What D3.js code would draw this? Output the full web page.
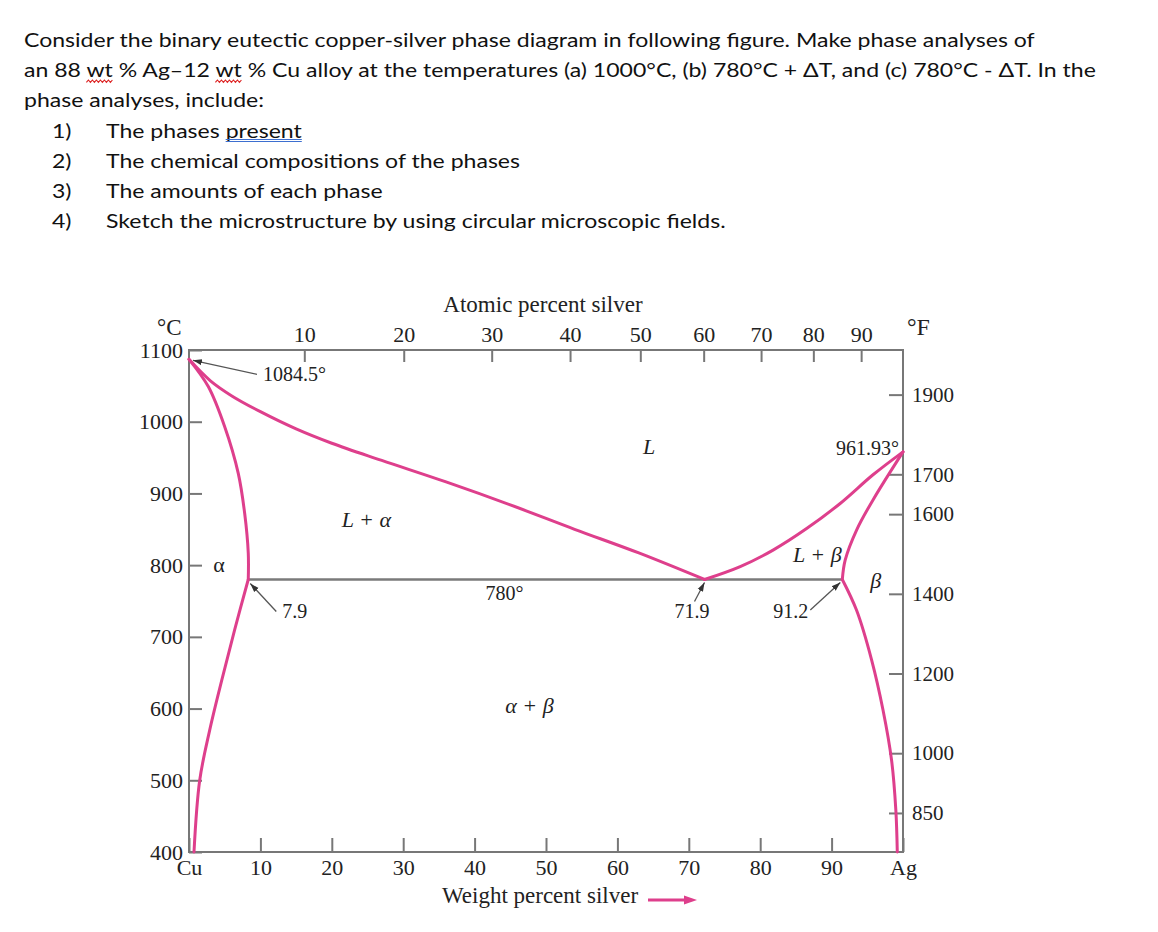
<!DOCTYPE html>
<html>
<head>
<meta charset="utf-8">
<script src="https://cdn.jsdelivr.net/npm/d3@7"></script>
<style>
  body { margin: 0; background: #fff; }
  svg text { font-family: "Liberation Serif", "Times New Roman", serif; fill: #222; }
  .q text { font-family: Lato, "Open Sans", sans-serif; fill: #111; font-size: 20px; }
  .axis text { font-size: 22px; }
  .axis line { stroke: #777; stroke-width: 2; }
  .axis path { display: none; }
  .axis.f text { font-size: 21px; }
  .note { font-size: 20px; }
  .phase { font-size: 22px; font-style: italic; }
</style>
</head>
<body>
<svg id="chart" width="1158" height="932"></svg>
<script>
// question text
var questionLines = [
  "Consider the binary eutectic copper-silver phase diagram in following figure. Make phase analyses of",
  "an 88 wt % Ag\u201312 wt % Cu alloy at the temperatures (a) 1000\u00b0C, (b) 780\u00b0C + \u0394T, and (c) 780\u00b0C - \u0394T. In the",
  "phase analyses, include:"
];
var listNumbers = ["1)", "2)", "3)", "4)"];
var listItems = [
  "The phases present",
  "The chemical compositions of the phases",
  "The amounts of each phase",
  "Sketch the microstructure by using circular microscopic fields."
];

// axes
var wtTicks = [0, 10, 20, 30, 40, 50, 60, 70, 80, 90, 100];
var atTicks = [10, 20, 30, 40, 50, 60, 70, 80, 90];
var celsiusTicks = [400, 500, 600, 700, 800, 900, 1000, 1100];
var fahrenheitTicks = [850, 1000, 1200, 1400, 1600, 1700, 1900];

// phase boundaries: [weight % Ag, temperature °C]
var liquidusCu = [[0, 1087], [3, 1057], [6, 1036], [10, 1014], [15, 990], [20, 970], [27, 946],
                  [36, 916], [45, 884], [54, 850], [63, 817], [72.2, 780]];
var solidusAlpha = [[0, 1087], [2.7, 1049], [5.0, 993], [6.9, 928], [7.8, 872], [8.3, 817], [8.3, 780]];
var solvusAlpha = [[8.3, 780], [6.4, 710], [4.6, 640], [2.9, 570], [1.5, 500], [0.7, 400]];
var liquidusAg = [[72.2, 780], [77.2, 798], [81.8, 821], [86.5, 851], [91.2, 886], [95.8, 926], [100, 958]];
var solidusBeta = [[100, 958], [95.8, 891], [93.5, 849], [91.9, 807], [91.5, 780]];
var solvusBeta = [[91.5, 780], [93.5, 737], [95.6, 668], [97.2, 598], [98.4, 528], [99.0, 458], [99.2, 400]];
var eutectic = [[8.3, 780], [91.5, 780]];

var notes = ["1084.5\u00b0", "7.9", "71.9", "91.2", "961.93\u00b0", "780\u00b0"];
var phaseLabels = ["L", "L + \u03b1", "\u03b1", "\u03b1 + \u03b2", "L + \u03b2", "\u03b2"];

var pink = "#de3f8c";
var svg = d3.select("#chart");

// ---------- question text ----------
var q = svg.append("g").attr("class", "q");
var probe = q.append("text").text(questionLines[0]);
var sx = 1011 / probe.node().getComputedTextLength();
probe.remove();

function line(str, x, y) {
  return q.append("text")
    .attr("transform", "translate(" + x + "," + y + ") scale(" + sx + ",1)")
    .text(str);
}

var qNodes = questionLines.map(function(s, i) { return line(s, 24, 47 + i * 30.2); });
listItems.forEach(function(s, i) {
  line(listNumbers[i], 52, 137.5 + i * 30.3);
  var t = line(s, 106, 137.5 + i * 30.3);
  if (i === 0) {
    var node = t.node();
    var k = s.indexOf("present");
    var x0 = 106 + node.getSubStringLength(0, k) * sx;
    var w = node.getSubStringLength(k, 7) * sx;
    [2, 4].forEach(function(dy) {
      q.append("line")
        .attr("x1", x0).attr("x2", x0 + w)
        .attr("y1", 137.5 + dy).attr("y2", 137.5 + dy)
        .attr("stroke", "#3d6fd0").attr("stroke-width", 1.1);
    });
  }
});

// red squiggles under "wt"
(function() {
  var s = questionLines[1];
  var node = qNodes[1].node();
  var from = 0;
  var k;
  while ((k = s.indexOf("wt", from)) >= 0) {
    var x0 = 24 + node.getSubStringLength(0, k) * sx;
    var w = node.getSubStringLength(k, 2) * sx;
    var pts = [];
    for (var j = 0; j <= Math.round(w / 2); j++) {
      pts.push([x0 + j * 2, 47 + 30.2 + 4 + (j % 2 ? -1.2 : 1.2)]);
    }
    q.append("path").attr("d", d3.line()(pts))
      .attr("fill", "none").attr("stroke", "#d22").attr("stroke-width", 1.1);
    from = k + 2;
  }
})();

// ---------- chart ----------
var frame = {left: 189, right: 903, top: 350, bottom: 852};

var x = d3.scaleLinear().domain([0, 100]).range([frame.left, frame.right]);
var y = d3.scaleLinear().domain([400, 1100]).range([frame.bottom, frame.top]);
var yF = d3.scaleLinear().domain([400 * 1.8 + 32, 1100 * 1.8 + 32]).range([frame.bottom, frame.top]);

function atToWt(a) {
  return 100 * a * 107.87 / (a * 107.87 + (100 - a) * 63.546);
}

svg.append("g")
  .attr("class", "axis")
  .attr("transform", "translate(0," + frame.bottom + ")")
  .call(d3.axisBottom(x)
    .tickValues(wtTicks)
    .tickFormat(function(d) { return d === 0 ? "Cu" : d === 100 ? "Ag" : d; })
    .tickSizeInner(-14).tickSizeOuter(0).tickPadding(7));

svg.append("g")
  .attr("class", "axis")
  .attr("transform", "translate(2," + frame.top + ")")
  .call(d3.axisTop(x)
    .tickValues(atTicks.map(atToWt))
    .tickFormat(function(d, i) { return atTicks[i]; })
    .tickSizeInner(-12).tickSizeOuter(0).tickPadding(8));

svg.append("g")
  .attr("class", "axis")
  .attr("transform", "translate(" + frame.left + ",0)")
  .call(d3.axisLeft(y)
    .tickValues(celsiusTicks)
    .tickFormat(d3.format("d"))
    .tickSizeInner(-13).tickSizeOuter(0).tickPadding(6));

svg.append("g")
  .attr("class", "axis f")
  .attr("transform", "translate(" + frame.right + ",0)")
  .call(d3.axisRight(yF)
    .tickValues(fahrenheitTicks)
    .tickFormat(d3.format("d"))
    .tickSizeInner(-14).tickSizeOuter(0).tickPadding(9));

svg.append("rect")
  .attr("x", frame.left).attr("y", frame.top)
  .attr("width", frame.right - frame.left).attr("height", frame.bottom - frame.top)
  .attr("fill", "none").attr("stroke", "#777").attr("stroke-width", 2);

// axis titles
svg.append("text")
  .attr("x", 543).attr("y", 312)
  .attr("text-anchor", "middle")
  .style("font-size", "23px")
  .text("Atomic percent silver");

svg.append("text")
  .attr("x", 540).attr("y", 903)
  .attr("text-anchor", "middle")
  .style("font-size", "23px")
  .text("Weight percent silver");

svg.append("text").attr("x", 157).attr("y", 335).style("font-size", "23px").text("\u00b0C");
svg.append("text").attr("x", 907).attr("y", 335).style("font-size", "24px").text("\u00b0F");

// pink arrow after axis title
svg.append("line")
  .attr("x1", 648).attr("x2", 686).attr("y1", 900).attr("y2", 900)
  .attr("stroke", pink).attr("stroke-width", 3);
svg.append("path")
  .attr("d", "M684,895.5L697,900L684,904.5Z")
  .attr("fill", pink);

// eutectic isotherm
var path = d3.line()
  .x(function(d) { return x(d[0]); })
  .y(function(d) { return y(d[1]); });

svg.append("path")
  .attr("d", path(eutectic))
  .attr("fill", "none").attr("stroke", "#7a7a7a").attr("stroke-width", 2.5);

var curve = d3.line()
  .curve(d3.curveCatmullRom.alpha(0.5))
  .x(function(d) { return x(d[0]); })
  .y(function(d) { return y(d[1]); });

[liquidusCu, solidusAlpha, solvusAlpha, liquidusAg, solidusBeta, solvusBeta].forEach(function(b) {
  svg.append("path")
    .attr("d", curve(b))
    .attr("fill", "none")
    .attr("stroke", pink)
    .attr("stroke-width", 3)
    .attr("stroke-linejoin", "round")
    .attr("stroke-linecap", "round");
});

// annotations
svg.append("defs").append("marker")
  .attr("id", "head")
  .attr("markerUnits", "userSpaceOnUse")
  .attr("markerWidth", 10).attr("markerHeight", 8)
  .attr("refX", 9).attr("refY", 4)
  .attr("orient", "auto")
  .append("path").attr("d", "M0,1L9,4L0,7Z").attr("fill", "#333");

function note(label, px, py, tx, ty, anchor, lx, ly, ex, ey) {
  svg.append("text").attr("class", "note")
    .attr("x", px + tx).attr("y", py + ty)
    .attr("text-anchor", anchor)
    .text(label);
  if (lx !== undefined) {
    svg.append("line")
      .attr("x1", px + lx).attr("y1", py + ly)
      .attr("x2", px + ex).attr("y2", py + ey)
      .attr("stroke", "#555").attr("stroke-width", 1.3)
      .attr("marker-end", "url(#head)");
  }
}

note(notes[0], x(0), y(1087), 74, 22, "start", 68, 15, 4, 1);
note(notes[1], x(8.3), y(780), 34, 38.5, "start", 28, 32, 2, 4);
note(notes[2], x(72.2), y(780), -30, 38.5, "start", -10, 22, 0, 3);
note(notes[3], x(91.5), y(780), -69, 38.5, "start", -32, 30.5, -2, 3);
note(notes[4], x(100), y(958), -4, 3, "end");
note(notes[5], x(44.2), y(780), 0, 20.5, "middle");

// phase region labels
var phasePos = [[63.6, 955], [21.4, 853.6], [3.4, 790.8], [44.3, 594], [84.6, 805], [95.4, 768]];
phaseLabels.forEach(function(t, i) {
  svg.append("text")
    .attr("class", "phase")
    .attr("x", x(phasePos[i][0]))
    .attr("y", y(phasePos[i][1]))
    .style("font-style", i === 2 ? "normal" : null)
    .text(t);
});
</script>
</body>
</html>
